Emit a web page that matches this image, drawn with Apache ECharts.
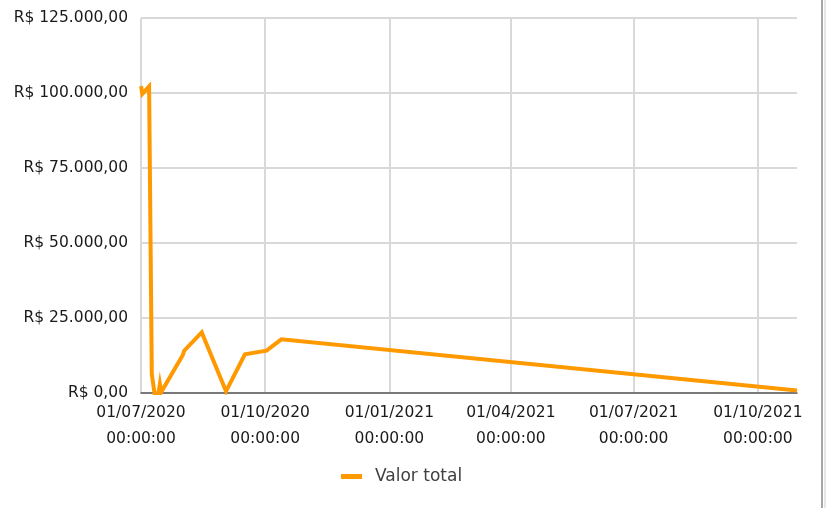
<!DOCTYPE html>
<html>
<head>
<meta charset="utf-8">
<script src="https://cdn.jsdelivr.net/npm/echarts@6/dist/echarts.min.js"></script>
<style>
  html, body { margin: 0; padding: 0; background: #fff; }
  #chart { width: 826px; height: 508px; }
</style>
</head>
<body>
<div id="chart"></div>
<script>
const seriesName = "Valor total";
const dates = [
  "2020-07-01", "2020-07-02", "2020-07-07", "2020-07-08", "2020-07-09",
  "2020-07-10", "2020-07-11", "2020-07-14", "2020-07-15", "2020-07-16",
  "2020-08-01", "2020-08-02", "2020-08-15", "2020-09-02", "2020-09-16",
  "2020-10-02", "2020-10-13", "2021-10-30"
];
const values = [
  102300, 99700, 102200, 102000, 6300,
  6300, 0, 0, 3000, 300,
  12700, 14100, 20200, 600, 12900,
  14100, 17900, 800
];
const xTicks = ["2020-07-01", "2020-10-01", "2021-01-01", "2021-04-01", "2021-07-01", "2021-10-01"];
const yTicks = [0, 25000, 50000, 75000, 100000, 125000];

const fontFamily = "'DejaVu Sans', sans-serif";
// day-based timestamps, so the x axis can be a plain value axis
const toMs = s => {
  const [y, m, d] = s.split("-").map(Number);
  return Date.UTC(y, m - 1, d);
};
const xTickValues = xTicks.map(toMs);

function fmtMoney(v) {
  const s = Math.round(v).toString().replace(/\B(?=(\d{3})+(?!\d))/g, ".");
  return "R$ " + s + ",00";
}
function fmtDate(v) {
  const d = new Date(v);
  const p = n => (n < 10 ? "0" : "") + n;
  return p(d.getUTCDate()) + "/" + p(d.getUTCMonth() + 1) + "/" + d.getUTCFullYear() + "\n00:00:00";
}

const chart = echarts.init(document.getElementById("chart"));
chart.setOption({
  animation: false,
  backgroundColor: "#ffffff",
  grid: { left: 141, right: 29, top: 18, bottom: 115, containLabel: false },
  legend: {
    left: 336,
    top: 463,
    icon: "rect",
    itemWidth: 21,
    itemHeight: 5,
    textStyle: { fontFamily, fontSize: 17, color: "#404040", padding: [0, 0, 0, 8] },
    data: [seriesName]
  },
  xAxis: {
    type: "value",
    min: xTickValues[0],
    max: toMs(dates[dates.length - 1]),
    axisLine: { show: true, lineStyle: { color: "#595959", width: 1.5 } },
    axisTick: { show: false, customValues: xTickValues },
    axisLabel: {
      customValues: xTickValues,
      formatter: fmtDate,
      fontFamily, fontSize: 15.5, color: "#1a1a1a",
      lineHeight: 26, margin: 7, hideOverlap: false
    },
    splitLine: { show: true, lineStyle: { color: "#d9d9d9", width: 2 } },
    z: 5
  },
  yAxis: {
    type: "value",
    min: yTicks[0],
    max: yTicks[yTicks.length - 1],
    interval: yTicks[1] - yTicks[0],
    axisLine: { show: false },
    axisTick: { show: false },
    axisLabel: { formatter: fmtMoney, fontFamily, fontSize: 15.5, color: "#1a1a1a", margin: 13 },
    splitLine: { show: true, lineStyle: { color: "#d9d9d9", width: 2 } }
  },
  graphic: [
    { type: "line", shape: { x1: 822, y1: 0, x2: 822, y2: 508 }, style: { stroke: "#a6a6a6", lineWidth: 2 } },
    { type: "line", shape: { x1: 825, y1: 0, x2: 825, y2: 508 }, style: { stroke: "#e6e6e6", lineWidth: 2 } }
  ],
  series: [{
    name: seriesName,
    type: "line",
    data: dates.map((d, i) => [toMs(d), values[i]]),
    showSymbol: false,
    symbol: "none",
    color: "#ff9900",
    lineStyle: { color: "#ff9900", width: 4, join: "miter" },
    z: 10
  }]
});
window.onresize = function () { chart.resize(); };
</script>
</body>
</html>
